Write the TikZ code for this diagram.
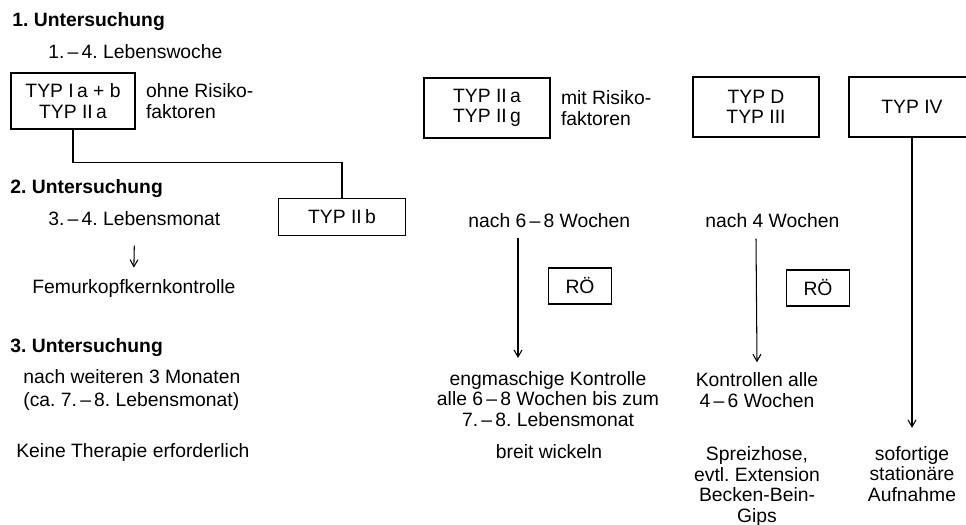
\documentclass[tikz,border=0pt]{standalone}
\usepackage{fontspec}
\setmainfont{Liberation Sans}
\usepackage{tikz}
\usetikzlibrary{arrows.meta, positioning}
\frenchspacing
\newcommand{\figfont}{\fontsize{11}{11.6}\selectfont}
\tikzset{
	typbox/.style={rectangle, draw=black, line width=0.8pt, minimum width=2.52cm, minimum height=1.2cm, align=center, inner sep=0pt},
	roebox/.style={rectangle, draw=black, line width=0.8pt, minimum width=1.26cm, minimum height=0.72cm, inner sep=0pt},
	txt/.style   ={inner sep=0pt, align=left},
	ctxt/.style  ={inner sep=0pt, align=center},
	head/.style  ={inner sep=0pt, font=\figfont\bfseries},
	conn/.style  ={line width=0.8pt},
	arr/.style   ={-{Straight Barb[length=1.4mm, width=1.6mm]}, line width=0.6pt},
}

\begin{document}
\begin{tikzpicture}[x=0.02cm, y=-0.02cm, every node/.style={font=\figfont}]
	\useasboundingbox (0,0) rectangle (966,524);
	\clip (0,0) rectangle (966,524);
	% left column: examinations
	\node[head, anchor=base west] (u1) at (12,27) {1. Untersuchung};
	\node[txt, anchor=base west] (lw) at (48,58) {1.\,--\,4. Lebenswoche};
	\node[typbox, minimum width=2.48cm, minimum height=1.12cm] (t1) at (73,101) {TYP I\,a + b\\TYP II\,a};
	\node[txt, right=0.2cm of t1] (ohne) {ohne Risiko-\\faktoren};
	\node[head, anchor=base west] (u2) at (10,193) {2. Untersuchung};
	\node[txt, anchor=base west] (lm) at (48,225) {3.\,--\,4. Lebensmonat};
	\node[typbox, minimum width=2.54cm, minimum height=0.74cm] (t2b) at (342,217) {TYP II\,b};
	\node[txt, anchor=base west] (fem) at (32,293) {Femurkopfkernkontrolle};
	\node[head, anchor=base west] (u3) at (10,352) {3. Untersuchung};
	\node[txt, anchor=base west] (nw) at (23,406) {nach weiteren 3 Monaten\\[1pt] (ca. 7.\,--\,8. Lebensmonat)};
	\node[txt, anchor=base west] (kt) at (16,457) {Keine Therapie erforderlich};
	% right part: types with risk
	\node[typbox] (t2a) at (487,108) {TYP II\,a\\TYP II\,g};
	\node[txt, right=0.2cm of t2a] (mit) {mit Risiko-\\faktoren};
	\node[typbox] (tD) at (756,107) {TYP D\\TYP III};
	\node[typbox] (t4) at (912,107) {TYP IV};
	\node[txt, anchor=base west] (w68) at (468,227) {nach 6\,--\,8 Wochen};
	\node[txt, anchor=base west] (w4) at (705,227) {nach 4 Wochen};
	\node[roebox] (r1) at (580,286) {RÖ};
	\node[roebox] (r2) at (818,288) {RÖ};
	\node[ctxt, anchor=base] (eng) at (548,426) {engmaschige Kontrolle\\alle 6\,--\,8 Wochen bis zum\\7.\,--\,8. Lebensmonat};
	\node[ctxt, anchor=base] (bw) at (549,458) {breit wickeln};
	\node[ctxt, anchor=base] (kon) at (757,407) {Kontrollen alle\\4\,--\,6 Wochen};
	\node[ctxt, anchor=base] (spr) at (757,522) {Spreizhose,\\evtl. Extension\\Becken-Bein-\\Gips};
	\node[ctxt, anchor=base] (sof) at (912,501) {sofortige\\stationäre\\Aufnahme};
	\coordinate (a1s) at (518,238);
	\coordinate (a1e) at (518,358);
	% connectors
	\draw[conn] (t1.south) -- ++(0,33) -| (t2b.north);
	\draw[arr] ([yshift=-0.4cm]lm.south) -- ([yshift=0.22cm]fem.north);
	\draw[arr] (a1s) -- (a1e);
	\draw[arr] ([yshift=-0.22cm]w4.south -| tD.south) -- ([yshift=0.2cm]kon.north);
	\draw[arr] (t4.south) -- ([yshift=0.36cm]sof.north);
\end{tikzpicture}
\end{document}
